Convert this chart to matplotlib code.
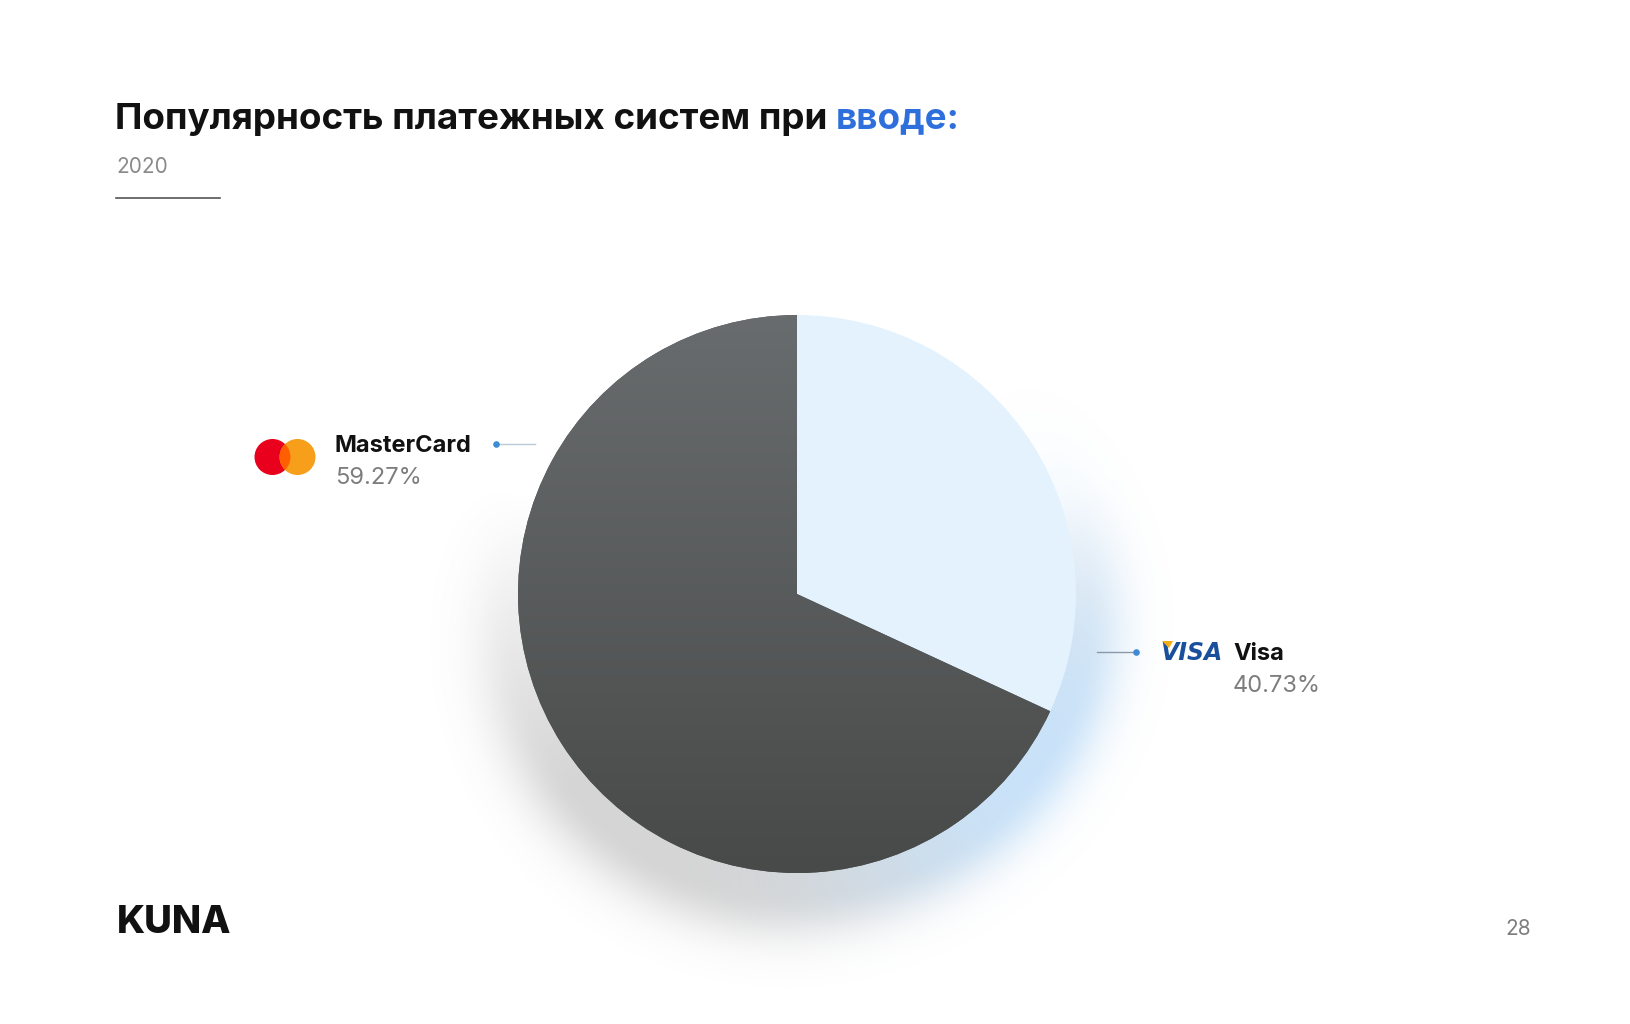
import matplotlib
import matplotlib.pyplot as plt
import numpy as np
from matplotlib.patches import Circle

matplotlib.use('agg', force=True)

# data
systems = ["Visa", "MasterCard"]
share_drawn = [31.9, 68.1]          # slice sizes as drawn in the picture
share_labels = ["40.73%", "59.27%"]  # values printed next to the pie
title_main = "Популярность платежных систем при "
title_accent = "вводе:"
subtitle = "2020"
brand = "KUNA"
page_no = "28"

W, H = 1631, 1024
plt.rcParams['font.family'] = ['Inter', 'DejaVu Sans']

fig = plt.figure(figsize=(W / 100, H / 100), dpi=100)
ax = fig.add_axes([0, 0, 1, 1])
ax.set_xlim(0, W)
ax.set_ylim(0, H)
ax.set_aspect('equal')
ax.axis('off')


def Y(y):
    return H - y


cx, cy, r = 797, Y(594), 279

# soft shadow / glow under the pie
xs = np.arange(W)
ys = np.arange(H)
gx, gy = np.meshgrid(xs, ys)
gyd = H - gy
d_gray = np.hypot(gx - (cx - 4), gyd - (cy - 22)) - r
d_blue = np.hypot(gx - (cx + 12), gyd - (cy - 12)) - r
ang = np.arctan2(gyd - cy, gx - cx)
wblue = np.clip(np.cos(ang - np.deg2rad(-35)), 0, 1) ** 3
a_gray = 0.30 * np.exp(-(np.clip(d_gray, 0, None) / 45.0) ** 2) * (d_gray > -40)
a_gray *= np.clip(0.35 - np.sin(ang), 0, 1) * (1 - wblue)
a_blue = 0.55 * np.exp(-(np.clip(d_blue, 0, None) / 40.0) ** 2) * wblue
shadow = np.zeros((H, W, 4))
gray = np.array([0.45, 0.45, 0.45])
blue = np.array([0.62, 0.80, 0.96])
alpha = np.clip(a_gray + a_blue, 0, 1)
mix = np.where(alpha > 0, a_blue / np.maximum(alpha, 1e-9), 0)
shadow[..., :3] = gray * (1 - mix[..., None]) + blue * mix[..., None]
shadow[..., 3] = alpha
ax.imshow(shadow, extent=(0, W, 0, H), origin='upper', zorder=0, interpolation='bilinear')

wedges, _ = ax.pie(share_drawn, startangle=90, counterclock=False, center=(cx, cy),
                   radius=r, colors=["#e4f2fd", "#5a5c5d"],
                   wedgeprops=dict(linewidth=0), frame=True)
ax.set_xlim(0, W)
ax.set_ylim(0, H)
ax.axis('off')
for w in wedges:
    w.set_zorder(2)

# vertical gradient on the dark slice
grad = np.linspace(0, 1, 256)[:, None]
top_c = np.array([0.412, 0.424, 0.431])
bot_c = np.array([0.282, 0.290, 0.286])
img = top_c * (1 - grad[..., None]) + bot_c * grad[..., None]
img = np.repeat(img, 2, axis=1)
gim = ax.imshow(img, extent=(cx - r, cx + r, cy - r, cy + r), origin='upper',
                zorder=3, aspect='auto')
gim.set_clip_path(wedges[1])

# title
t1 = ax.text(115, Y(119), title_main, fontsize=26.5, fontweight='bold', color='#111111',
             va='center', ha='left')
fig.canvas.draw()
bb = t1.get_window_extent()
ax.text(bb.x1, Y(119), title_accent, fontsize=26.5, fontweight='bold', color='#2f6fdb',
        va='center', ha='left')
ax.text(116, Y(167), subtitle, fontsize=15, color='#8a8a8a', va='center', ha='left')
ax.plot([116, 220], [Y(198), Y(198)], color='#555555', lw=1.2)

# MasterCard label
ax.add_patch(Circle((272.5, Y(457)), 18, color='#e8001c', lw=0, zorder=4))
ax.add_patch(Circle((297.5, Y(457)), 18, color='#f79e1b', lw=0, zorder=4))
ov = Circle((297.5, Y(457)), 18, color='#ff5f00', lw=0, zorder=5)
ax.add_patch(ov)
ov.set_clip_path(Circle((272.5, Y(457)), 18, transform=ax.transData))
ax.text(335, Y(446), systems[1], fontsize=17, fontweight='bold', color='#111111',
        va='center', ha='left')
ax.text(335, Y(478), share_labels[1], fontsize=17, color='#7d7d7d', va='center', ha='left')
ax.plot([496, 535], [Y(444), Y(444)], color='#b9c9d8', lw=1, zorder=4)
ax.scatter([496], [Y(444)], s=14, color='#3d8ad6', zorder=5)

# Visa label
ax.plot([1097, 1136], [Y(652), Y(652)], color='#8a9aa8', lw=1, zorder=4)
ax.scatter([1136], [Y(652)], s=14, color='#3d8ad6', zorder=5)
ax.text(1160, Y(653), "VISA", fontsize=17, fontweight='heavy', fontstyle='italic',
        color='#1a4f9c', va='center', ha='left', family=['DejaVu Sans'])
ax.fill([1162, 1173, 1169], [Y(641), Y(641), Y(648)], color='#f2ae14', lw=0, zorder=5)
ax.text(1233, Y(654), systems[0], fontsize=17, fontweight='bold', color='#111111',
        va='center', ha='left')
ax.text(1233, Y(686), share_labels[0], fontsize=17, color='#7d7d7d', va='center', ha='left')

# footer
ax.text(117, Y(923), brand, fontsize=27.5, fontweight='heavy', color='#111111',
        va='center', ha='left')
ax.text(1531, Y(929), page_no, fontsize=15, color='#7d7d7d', va='center', ha='right')

fig.savefig("out.png", dpi=100, facecolor='white')
